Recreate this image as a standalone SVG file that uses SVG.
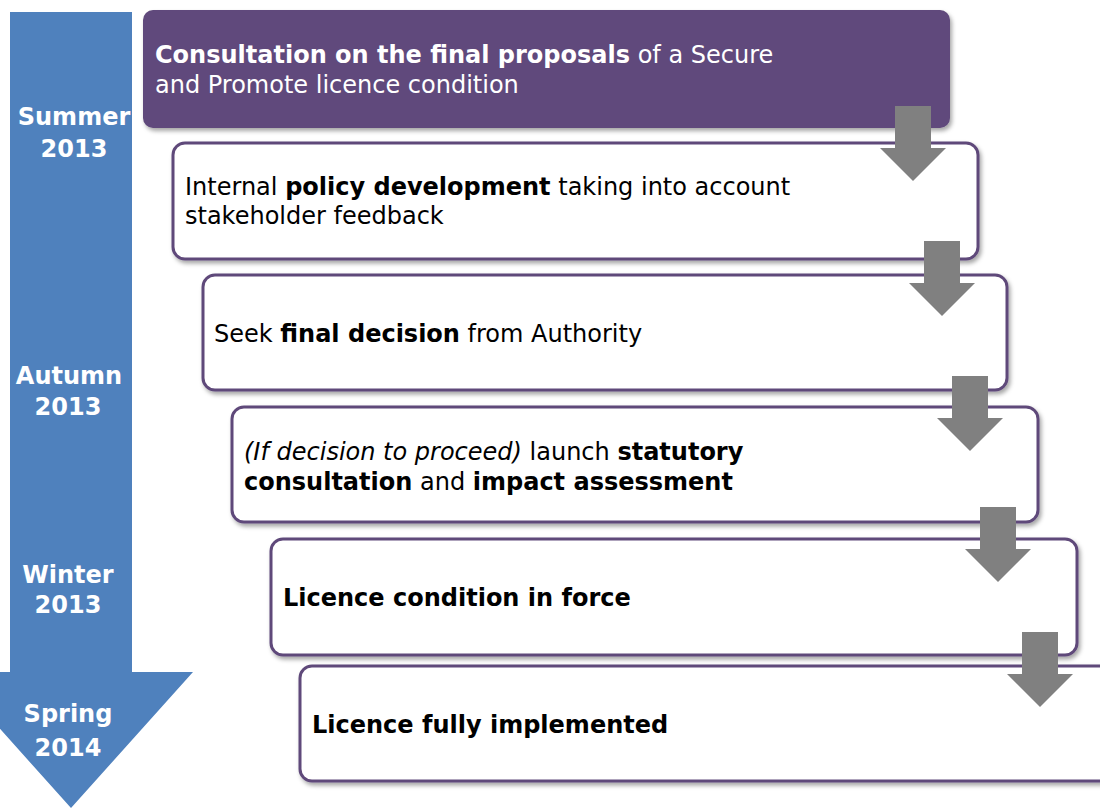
<svg xmlns="http://www.w3.org/2000/svg" width="1100" height="808" viewBox="0 0 1100 808">
  <defs>
    <filter id="shadow" x="-5%" y="-10%" width="115%" height="130%">
      <feDropShadow dx="2" dy="3" stdDeviation="2" flood-color="#000" flood-opacity="0.35"/>
    </filter>
    <!-- block arrow used between steps: 36 wide shaft, 66 wide head -->
    <polygon id="step-arrow" points="-18,0 18,0 18,42 33,42 0,75 -33,42 -18,42"/>
  </defs>
  <style>
    text { font-family: "DejaVu Sans", Verdana, sans-serif; font-size: 24px; }
    .b { font-weight: bold; }
    .i { font-style: italic; }
    .season { font-weight: bold; fill: #ffffff; text-anchor: middle; }
    .step { fill: #ffffff; stroke: #5f497a; stroke-width: 3; filter: url(#shadow); }
    .dark { fill: #000000; }
    .arrow { fill: #808080; }
  </style>

  <rect width="1100" height="808" fill="#ffffff"/>

  <!-- timeline arrow with season labels -->
  <g id="timeline">
    <polygon points="10,12 132,12 132,672 193,672 71,808 -51,672 10,672" fill="#4f81bd"/>
    <text class="season" x="74" y="125">Summer</text>
    <text class="season" x="74" y="157">2013</text>
    <text class="season" x="69" y="384">Autumn</text>
    <text class="season" x="68" y="415">2013</text>
    <text class="season" x="68" y="583">Winter</text>
    <text class="season" x="68" y="613">2013</text>
    <text class="season" x="68" y="722">Spring</text>
    <text class="season" x="68" y="756">2014</text>
  </g>

  <g id="consultation">
    <rect x="143" y="10" width="807" height="118" rx="10" fill="#604a7b" filter="url(#shadow)"/>
    <text x="155" y="63" fill="#ffffff"><tspan class="b">Consultation on the final proposals</tspan> of a Secure</text>
    <text x="155" y="93" fill="#ffffff">and Promote licence condition</text>
  </g>

  <g id="policy-development">
    <rect class="step" x="173" y="143" width="805" height="116" rx="12"/>
    <text class="dark" x="185" y="195">Internal <tspan class="b">policy development</tspan> taking into account</text>
    <text class="dark" x="185" y="224">stakeholder feedback</text>
  </g>

  <g id="final-decision">
    <rect class="step" x="203" y="275" width="804" height="115" rx="12"/>
    <text class="dark" x="214" y="342">Seek <tspan class="b">final decision</tspan> from Authority</text>
  </g>

  <g id="statutory-consultation">
    <rect class="step" x="232" y="407" width="806" height="115" rx="12"/>
    <text class="dark" x="244" y="460"><tspan class="i">(If decision to proceed)</tspan> launch <tspan class="b">statutory</tspan></text>
    <text class="dark" x="244" y="490"><tspan class="b">consultation</tspan> and <tspan class="b">impact assessment</tspan></text>
  </g>

  <g id="licence-in-force">
    <rect class="step" x="271" y="539" width="806" height="116" rx="12"/>
    <text class="dark b" x="283" y="606">Licence condition in force</text>
  </g>

  <g id="licence-implemented">
    <rect class="step" x="300" y="666" width="820" height="115" rx="12"/>
    <text class="dark b" x="312" y="733">Licence fully implemented</text>
  </g>

  <!-- connectors between consecutive steps -->
  <g id="connectors" class="arrow">
    <use href="#step-arrow" x="913" y="106"/>
    <use href="#step-arrow" x="942" y="241"/>
    <use href="#step-arrow" x="970" y="376"/>
    <use href="#step-arrow" x="998" y="507"/>
    <use href="#step-arrow" x="1040" y="632"/>
  </g>
</svg>
